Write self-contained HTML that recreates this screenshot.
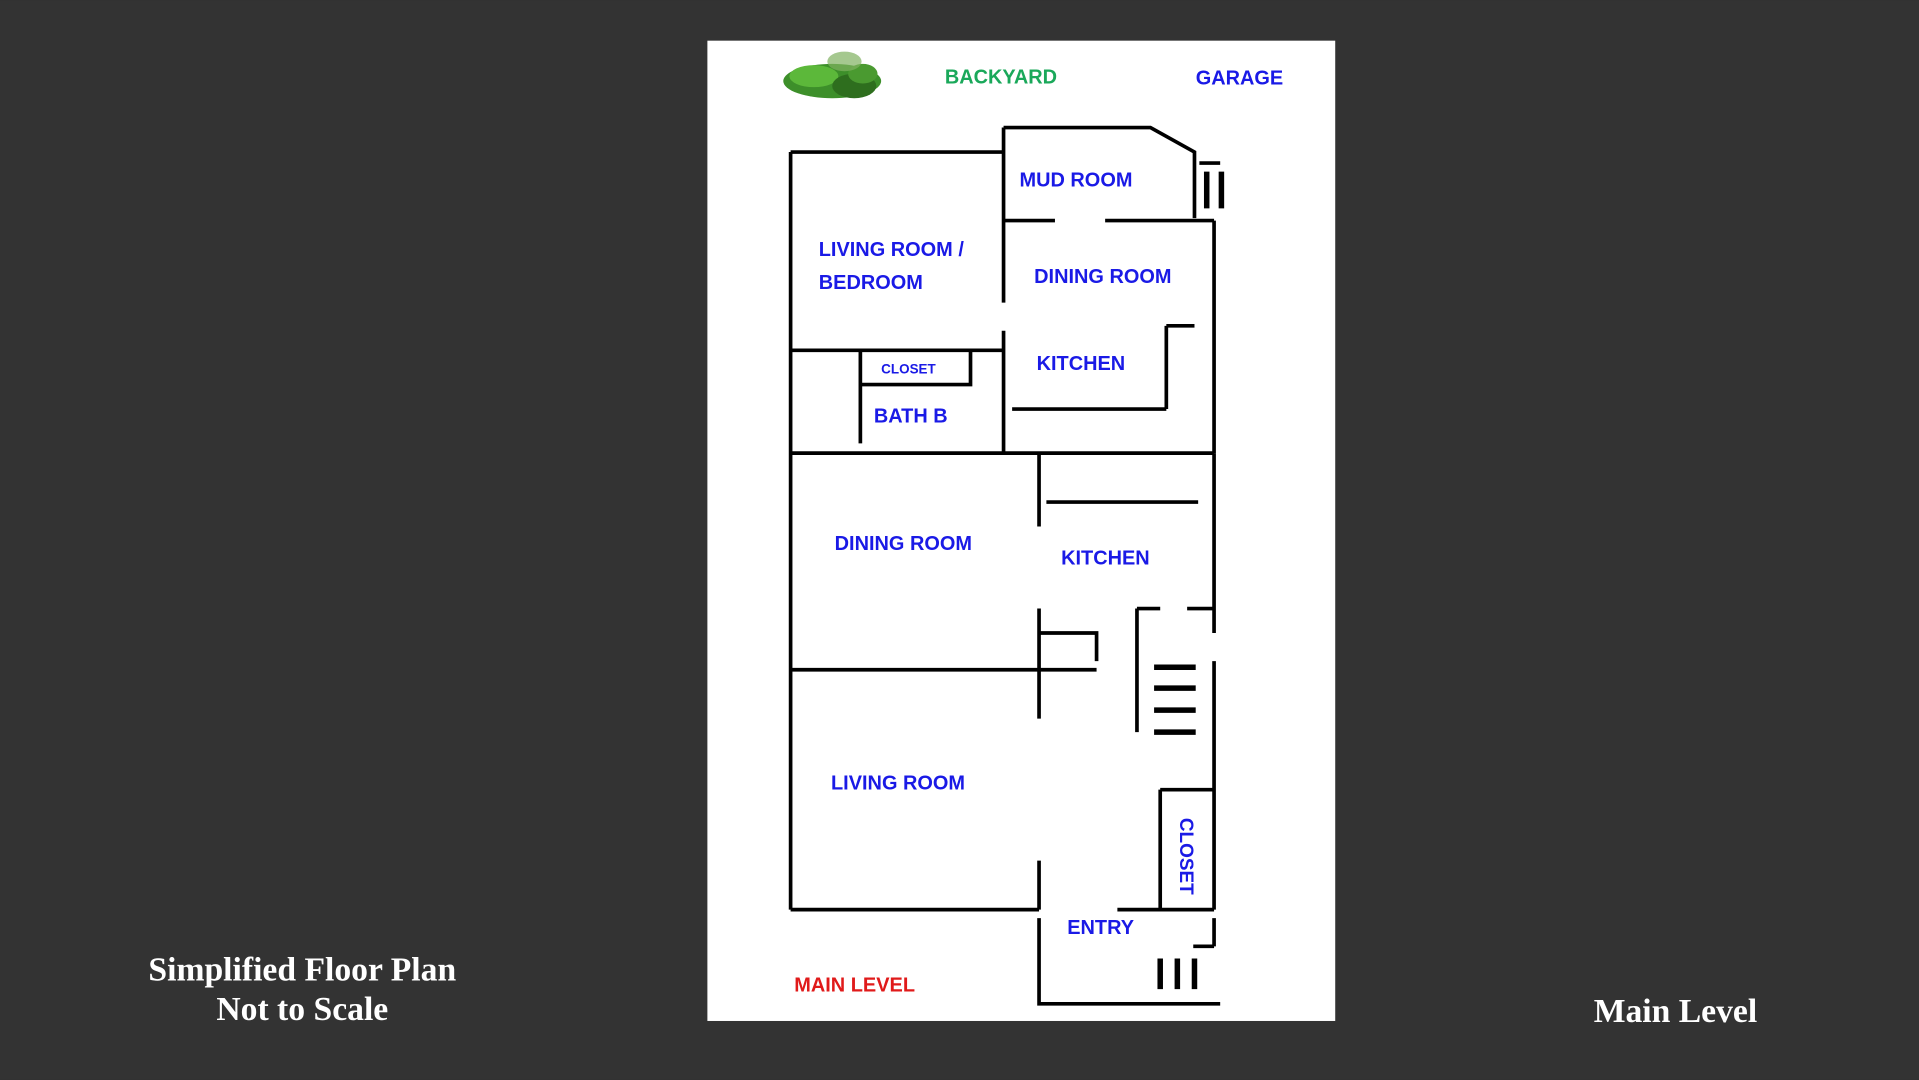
<!DOCTYPE html>
<html><head><meta charset="utf-8"><style>
html,body{margin:0;padding:0;background:#333333;width:1919px;height:1080px;overflow:hidden}
svg{display:block}
.t{font-family:"Liberation Sans",sans-serif;font-weight:bold;fill:#1a1ae6;font-size:16.3px}
.w{stroke:#000;stroke-width:3;fill:none}
.s{stroke:#000;stroke-width:4.5;fill:none}
.f{font-family:"Liberation Serif",serif;font-weight:bold;fill:#fff;font-size:27.5px}
</style></head><body>
<svg width="1919" height="1080" viewBox="0 0 1568 882">
<rect x="0" y="0" width="1568" height="882" fill="#333333"/>
<rect x="578" y="33" width="513" height="801" fill="#fff"/>
<g>
<ellipse cx="680" cy="66" rx="40" ry="14" fill="#3d8f2a"/>
<ellipse cx="665" cy="62" rx="20" ry="9" fill="#5cb83a"/>
<ellipse cx="698" cy="70" rx="18" ry="10" fill="#2e6e1e"/>
<ellipse cx="705" cy="60" rx="12" ry="8" fill="#4a9a30"/>
<ellipse cx="690" cy="50" rx="14" ry="8" fill="#7fb060" opacity="0.7"/>
</g>
<text x="772" y="68" class="t" style="fill:#1aa85a">BACKYARD</text>
<text x="977" y="69" class="t">GARAGE</text>
<path class="w" d="M646 124V743M646 124H820M820 104V247M820 270V370M820 104H940L976 124V178M980 133H997"/>
<path class="s" d="M986 140V170M998 140V170"/>
<path class="w" d="M820 180H862M903 180H992M992 180V370M953 266H976M953 266V334M827 334H953"/>
<path class="w" d="M646 286H734M751 286H820M703 286H793V314H703M703 286V362M646 370H992"/>
<path class="w" d="M849 370V430M855 410H979M992 370V517M849 497V587M849 517H896V540M646 547H896"/>
<path class="s" d="M943 545H977M943 562H977M943 580H977M943 598H977"/>
<path class="w" d="M929 497V598M929 497H948M970 497H992M992 540V743M948 645V743M948 645H992"/>
<path class="w" d="M646 743H849M849 703V743M913 743H992M849 750V820H997M992 750V773M975 773H992"/>
<path class="s" d="M948 783V808M962 783V808M976 783V808"/>
<text x="833" y="152" class="t">MUD ROOM</text>
<text x="669" y="209" class="t">LIVING ROOM /</text>
<text x="669" y="236" class="t">BEDROOM</text>
<text x="845" y="231" class="t">DINING ROOM</text>
<text x="847" y="302" class="t">KITCHEN</text>
<text x="720" y="305" class="t" style="font-size:11px">CLOSET</text>
<text x="714" y="345" class="t">BATH B</text>
<text x="682" y="449" class="t">DINING ROOM</text>
<text x="867" y="461" class="t">KITCHEN</text>
<text x="679" y="645" class="t">LIVING ROOM</text>
<text x="0" y="0" class="t" transform="translate(964 668) rotate(90)" style="font-size:15.5px">CLOSET</text>
<text x="872" y="763" class="t">ENTRY</text>
<text x="649" y="810" class="t" style="fill:#e01a1a">MAIN LEVEL</text>
<text x="247" y="801" class="f" text-anchor="middle">Simplified Floor Plan</text>
<text x="247" y="833" class="f" text-anchor="middle">Not to Scale</text>
<text x="1369" y="835" class="f" text-anchor="middle">Main Level</text>
</svg>
</body></html>
